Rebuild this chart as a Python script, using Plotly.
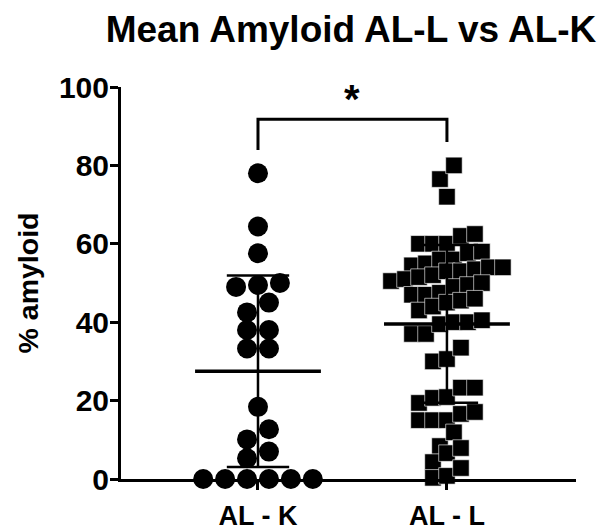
import numpy as np
import plotly.graph_objects as go

# ---------------- data ----------------
categories = ["AL - K", "AL - L"]

al_k = [78.0, 64.4, 57.6, 50.0, 49.5, 49.0, 45.0, 42.5, 38.0, 38.0,
        33.3, 33.3, 18.4, 12.7, 10.1, 7.0, 5.3, 0.0, 0.0, 0.0, 0.0, 0.0, 0.0]

al_l = [80.0, 76.5, 72.0,
        62.5, 62.0, 60.0, 60.0, 60.0,
        58.0, 57.6, 56.0, 56.0,
        55.0, 54.5, 54.0, 54.0, 53.5, 53.0, 53.0, 52.0, 51.5, 51.0, 50.5, 50.0, 49.5, 49.0,
        47.5, 47.0, 47.0, 46.0, 45.5, 45.0, 44.0, 43.0,
        40.5, 40.0, 40.0, 39.5,
        37.0, 37.0, 33.5, 30.6, 30.0, 23.3, 23.3, 20.7, 20.9, 19.4, 16.6, 17.1,
        15.0, 15.0, 15.0, 11.9, 8.4, 6.6, 7.9, 4.3, 2.8, 0.3, 0.8]

y_ticks = [0, 20, 40, 60, 80, 100]
significance = "*"
title_text = "Mean Amyloid AL-L vs AL-K"
y_title = "% amyloid"

# ---------------- layout helpers ----------------
FONT = "Liberation Sans, Arial, Helvetica, sans-serif"
W, H = 597, 522   # page body has an 8px margin inside the 605x530 window


def swarm(values, row_h, step):
    """Row-based scatter-dot arrangement (top-down), symmetric rows."""
    vals = sorted(values, reverse=True)
    xs, ys = [], []
    i = 0
    while i < len(vals):
        top = vals[i]
        row = [v for v in vals[i:] if v > top - row_h]
        n = len(row)
        for j, v in enumerate(sorted(row)):
            xs.append((j - (n - 1) / 2) * step)
            ys.append(v)
        i += n
    return np.array(xs), np.array(ys)


fig = go.Figure()

groups = [(al_k, "circle", 20, 4.5, 0.116), (al_l, "square", 16.5, 4.0, 0.074)]

for gi, (vals, sym, size, rh, step) in enumerate(groups):
    pos = gi + 1
    dx, yy = swarm(vals, rh, step)
    fig.add_trace(go.Scatter(
        x=pos + dx, y=yy, mode="markers",
        marker=dict(symbol=sym, size=size, color="black",
                    line=dict(width=0.6 if sym == "square" else 0, color="white")),
        cliponaxis=False, showlegend=False, hoverinfo="y"))

    m = float(np.mean(vals))
    sd = float(np.std(vals, ddof=1))
    hw, cw = 0.333, 0.165
    # mean line
    fig.add_trace(go.Scatter(x=[pos - hw, pos + hw], y=[m, m], mode="lines",
                             line=dict(color="black", width=3.5),
                             cliponaxis=False, showlegend=False, hoverinfo="skip"))
    # SD whisker and caps
    fig.add_trace(go.Scatter(
        x=[pos, pos, None, pos - cw, pos + cw, None, pos - cw, pos + cw],
        y=[m - sd, m + sd, None, m + sd, m + sd, None, m - sd, m - sd],
        mode="lines", line=dict(color="black", width=2.5),
        cliponaxis=False, showlegend=False, hoverinfo="skip"))

# significance bracket
fig.add_trace(go.Scatter(x=[1, 1, 2, 2], y=[83.9, 91.8, 91.8, 86.0], mode="lines",
                         line=dict(color="black", width=3),
                         cliponaxis=False, showlegend=False, hoverinfo="skip"))
fig.add_annotation(x=1.5, y=97.0, text="<b>" + significance + "</b>", showarrow=False,
                   font=dict(family=FONT, size=40, color="black"),
                   xanchor="center", yanchor="middle")

fig.update_layout(
    width=W, height=H, autosize=False,
    paper_bgcolor="white", plot_bgcolor="white",
    margin=dict(l=113, r=29, t=79, b=51),
    font=dict(family=FONT, color="black"),
    title=dict(text="<b>" + title_text + "</b>", x=343 / W, xref="container",
               xanchor="center", y=1 - 21 / H, yref="container", yanchor="middle",
               font=dict(family=FONT, size=37, color="black")),
)

fig.update_xaxes(
    range=[0.275, 2.683], tickvals=[1, 2], ticktext=["<b>" + c + "</b>" for c in categories],
    showline=True, linewidth=3, linecolor="black", ticks="outside", ticklen=8,
    tickwidth=3, tickcolor="black", showgrid=False, zeroline=False, automargin=False,
    tickfont=dict(family=FONT, size=27, color="black"), ticklabelstandoff=3)

fig.update_yaxes(
    range=[0, 100], tickvals=y_ticks, ticktext=["<b>%d</b>" % t for t in y_ticks],
    showline=True, linewidth=3, linecolor="black", ticks="outside", ticklen=8,
    tickwidth=3, tickcolor="black", showgrid=False, zeroline=False, automargin=False,
    tickfont=dict(family=FONT, size=30, color="black"), ticklabelstandoff=-5,
    title=dict(text="<b>" + y_title + "</b>", font=dict(family=FONT, size=28.5, color="black"),
               standoff=12))

fig.write_html("out.html")
